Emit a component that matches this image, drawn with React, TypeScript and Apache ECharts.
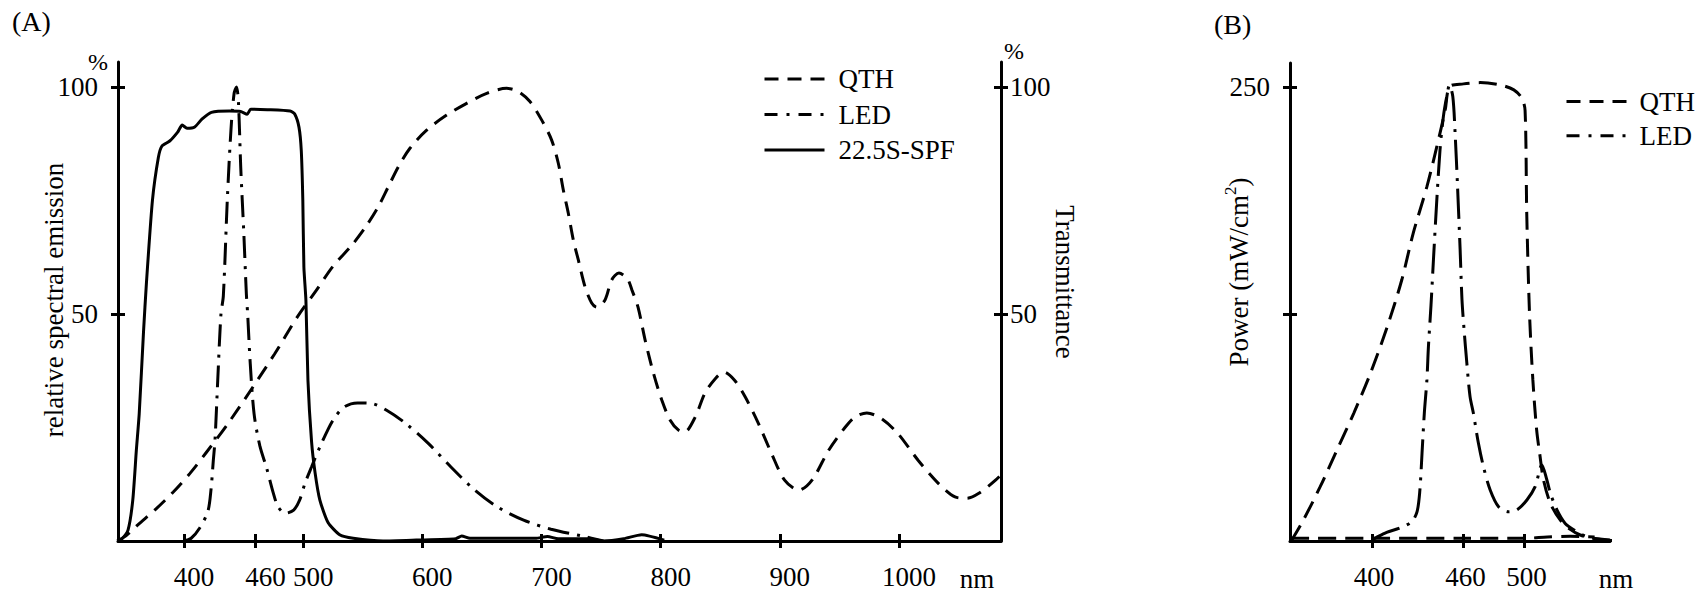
import React, { useEffect, useRef } from 'react';
import * as echarts from 'echarts';

const FONT = 'Liberation Serif';

// ---- tick values / labels ----
const xTicksA = [400, 460, 500, 600, 700, 800, 900, 1000];
const yTicksA = [50, 100];
const xTicksB = [400, 460, 500];
const yTicksB = [125, 250];
const yLabelsB = [250];

// ---- Panel A: relative spectral emission / transmittance (%) ----
const qthA: number[][] = [
  [344, 0], [352, 1.3], [361, 3.5], [377, 7.2], [391, 10.8], [405, 14.9], [419, 19.6], [437, 25.9],
  [456, 33.2], [476, 41.2], [495, 49.3], [511, 55.2], [525, 60.5], [541, 65.2], [553, 69.4],
  [563, 73.6], [571.4, 78], [579.8, 82.4], [589.6, 86.5], [603.6, 90.5], [620.4, 93.8],
  [637.2, 96.4], [654, 98.6], [670.8, 99.7], [680.5, 99], [690.3, 96.8], [700.2, 92.7],
  [708.5, 88.3], [714.1, 83.2], [718.3, 77.3], [722.5, 72.2], [726.7, 66.3], [730.9, 61.9],
  [736.5, 56], [742.1, 52.4], [746.3, 51.5], [753.3, 53.1], [758.9, 57.5], [765, 59],
  [772, 57.8], [776, 55.2], [781, 51.5], [787, 44.2], [794, 36.9],
  [801, 31], [808, 26.6], [815, 24.4], [820, 24], [829, 27.3], [837, 32.5], [846, 35.8],
  [853, 37.2], [862, 35.4], [871, 31.7], [882, 25.9], [893, 19.3], [904, 13.4], [916, 11.2],
  [927, 13.4], [941, 20], [955, 25.1], [963, 27.3], [973, 28.2], [985, 27], [999, 23.7],
  [1016, 17.8], [1033, 12.7], [1047, 9.7], [1057, 9.4], [1067, 10.5], [1081, 13.4], [1092, 16.3],
];

const ledA: number[][] = [
  [400, 0], [406, 0.6], [413, 2.8], [420, 6.5], [422.6, 11.2], [424.6, 17.8], [426, 22.2],
  [428.3, 35.4], [431, 50], [433, 54], [436.3, 75], [439.5, 91], [442, 98.5], [444, 100],
  [445.6, 97], [447.6, 82.3], [450.2, 67.7], [452.3, 54.5], [453.4, 50], [455.6, 39],
  [458.8, 28], [463.6, 21], [469.4, 16], [475, 10.5], [479, 7.5], [485, 6.1], [492, 6.8],
  [497, 9], [501.5, 12.7], [507, 16.3], [514, 20.7], [525, 26.6], [534.4, 29.5],
  [545.6, 30.4], [557, 30.3], [570, 28.8], [586, 25.9], [605, 21.5], [624, 16.3],
  [644, 11.2], [663, 7.5], [685, 4.6], [708, 2.6], [734, 1.1], [752, 0],
];

const spfA: number[][] = [
  [344, 0], [348, 0.5], [353, 2.4], [357, 9], [360, 20], [362.4, 28], [366, 46], [368.5, 57],
  [373.5, 75], [378.5, 84.5], [381.5, 87], [388, 88.1], [394.5, 90], [398.5, 91.6],
  [402.5, 90.9], [409, 91.2], [415, 92.9], [423, 94.4], [438, 94.7], [447.5, 94.6],
  [453, 94], [456, 95.1], [470, 95], [489, 94.7], [493, 94], [496.5, 91.1], [498.4, 86],
  [499.7, 75], [500.6, 60.3], [502.3, 53], [504, 35.4], [507, 22], [510, 15], [514, 9],
  [521, 4], [531, 1.3], [542, 0.6], [567, 0], [595, 0.2], [628, 0.5], [633, 1.1], [640, 0.6],
  [695, 0.6], [705, 1.0], [714, 0.5], [740, 0.5], [752, 0], [769, 0.5], [784, 1.4], [803, 0.2],
];

// ---- Panel B: power (mW/cm2) ----
const qthB: number[][] = [
  [347, 0], [355, 11.6], [366, 29.9], [377, 50.1], [388, 70.3], [399, 92.4], [410, 118],
  [419.5, 143.7], [427, 169.4], [436, 195.1], [442.5, 217.1], [448, 237.3], [451, 250.2],
  [460, 251.7], [471, 252.4], [484, 251.1], [493, 248.4], [498.3, 243.8], [500.4, 237],
  [501.5, 180], [503.3, 125.4], [505.5, 88.7], [508, 61], [510, 48], [512.5, 33.6],
  [517, 20.8], [523.4, 11.6], [530, 6.4], [536.6, 3.3], [545, 1.5], [556, 0.6],
];

const qthBBase: number[][] = [
  [347, 1.5], [400, 1.5], [460, 1.5], [500, 1.5], [515, 2.2], [530, 2.6], [546, 2.2],
];

const ledB: number[][] = [
  [400, 0.5], [403, 2], [409.6, 4.8], [418.4, 7.2], [426, 10.6], [429.5, 16], [431.3, 27],
  [432.8, 48.3], [434.3, 70.3], [436, 88.7], [437, 107], [438.7, 130], [440.3, 155],
  [442.5, 187.8], [444.6, 215.3], [446.8, 233.7], [449, 244.7], [450.8, 251], [453, 244.7],
  [454.5, 224.5], [456, 197], [457.8, 160.3], [459, 133], [460.4, 116.2], [462.2, 97.9],
  [464.3, 79.5], [466.5, 70.3], [469.8, 53.8], [473.1, 40.9], [477.5, 28.1], [483, 18.9],
  [489.5, 16.1], [495, 17.1], [501.6, 22.6], [507, 29.9], [511.4, 41.9], [514.7, 33.6],
  [517, 26.3], [521.3, 17.1], [526.7, 9.7], [533.3, 5.7], [541, 2.4], [552, 0.6], [565, 0],
];

const DASH_QTH_A = [15, 9];
const DASH_LED_A = [22, 8, 3, 8];
const DASH_QTH_B = [18, 9];
const DASH_LED_B = [30, 8, 3, 8];

function line(name: string, data: number[][], xi: number, yi: number, type: any, smooth: number, clip = true) {
  return {
    type: 'line', name, data, xAxisIndex: xi, yAxisIndex: yi,
    symbol: 'none', showSymbol: false, smooth, clip, silent: true,
    lineStyle: { color: '#000', width: 3, type },
    itemStyle: { color: '#000' },
  };
}

const axisLine = { show: true, onZero: false, lineStyle: { color: '#000', width: 3 } };
const fmt = (v: number) => String(v);

function xMain(grid: number, min: number, max: number, ticks: number[], pad: number) {
  return {
    type: 'value', gridIndex: grid, position: 'bottom', min, max,
    axisLine, splitLine: { show: false },
    axisTick: { show: true, customValues: ticks, length: 7, lineStyle: { color: '#000', width: 3 } },
    axisLabel: {
      customValues: ticks, margin: 22, fontFamily: FONT, fontSize: 27, color: '#000',
      padding: [0, 0, 0, pad], formatter: fmt,
    },
  };
}
function xGhost(grid: number, min: number, max: number, ticks: number[]) {
  return {
    type: 'value', gridIndex: grid, position: 'bottom', min, max,
    axisLine: { show: false }, splitLine: { show: false }, axisLabel: { show: false },
    axisTick: { show: true, inside: true, customValues: ticks, length: 7, lineStyle: { color: '#000', width: 3 } },
  };
}
function yMain(grid: number, pos: string, max: number, ticks: number[], labels: number[], margin: number, padTop: number) {
  return {
    type: 'value', gridIndex: grid, position: pos, min: 0, max,
    axisLine, splitLine: { show: false },
    axisTick: { show: true, customValues: ticks, length: 7, lineStyle: { color: '#000', width: 3 } },
    axisLabel: {
      customValues: labels, margin, fontFamily: FONT, fontSize: 27, color: '#000',
      padding: [padTop, 0, 0, 0], formatter: fmt,
    },
  };
}
function yGhost(grid: number, pos: string, max: number, ticks: number[]) {
  return {
    type: 'value', gridIndex: grid, position: pos, min: 0, max,
    axisLine: { show: false }, splitLine: { show: false }, axisLabel: { show: false },
    axisTick: { show: true, inside: true, customValues: ticks, length: 7, lineStyle: { color: '#000', width: 3 } },
  };
}

const txt = (text: string, x: number, y: number, size: number, rotation = 0, align = 'center') => ({
  type: 'text', x, y, rotation, silent: true,
  style: {
    text, fontFamily: FONT, fontSize: size, fill: '#000',
    align, textAlign: align, verticalAlign: 'middle', textVerticalAlign: 'middle',
  },
});

const legendItem = (name: string, type: any) => ({
  name,
  lineStyle: { type, width: 3, color: '#000' },
  itemStyle: { opacity: 0, color: 'transparent', borderWidth: 0 },
});

export default function App() {
  const ref = useRef<HTMLDivElement>(null);
  useEffect(() => {
    if (!ref.current) return;
    const chart = echarts.init(ref.current, null, { renderer: 'svg' });
    const maxA = 105.5;
    const maxB = 263.2;
    const option: any = {
      animation: false,
      backgroundColor: '#fff',
      grid: [
        { left: 118, top: 62, width: 883, height: 479, containLabel: false, outerBoundsMode: 'none' },
        { left: 1290, top: 63, width: 320, height: 478, containLabel: false, outerBoundsMode: 'none' },
      ],
      xAxis: [
        xMain(0, 344.6, 1085.6, xTicksA, 20),
        xGhost(0, 344.6, 1085.6, xTicksA),
        xMain(1, 346.2, 556.1, xTicksB, 4),
        xGhost(1, 346.2, 556.1, xTicksB),
      ],
      yAxis: [
        yMain(0, 'left', maxA, yTicksA, yTicksA, 20, 10),
        yGhost(0, 'left', maxA, yTicksA),
        yMain(0, 'right', maxA, yTicksA, yTicksA, 9, 4),
        yGhost(0, 'right', maxA, yTicksA),
        yMain(1, 'left', maxB, yTicksB, yLabelsB, 20, 8),
        yGhost(1, 'left', maxB, yTicksB),
      ],
      legend: [
        {
          orient: 'vertical', left: 763, top: 65.5, padding: 0, itemWidth: 60, itemHeight: 14, itemGap: 8.5,
          selectedMode: false,
          itemStyle: { opacity: 0 },
          textStyle: { fontFamily: FONT, fontSize: 27, color: '#000', lineHeight: 27, padding: [0, 0, 0, 9] },
          data: [
            legendItem('QTH', [14, 9]),
            legendItem('LED', [13, 9, 3, 9]),
            legendItem('22.5S-SPF', 'solid'),
          ],
        },
        {
          orient: 'vertical', left: 1565, top: 88, padding: 0, itemWidth: 60, itemHeight: 14, itemGap: 7.3,
          selectedMode: false,
          itemStyle: { opacity: 0 },
          textStyle: { fontFamily: FONT, fontSize: 27, color: '#000', lineHeight: 27, padding: [0, 0, 0, 8] },
          data: [
            legendItem('QTH', [14, 9]),
            legendItem('LED', [13, 9, 3, 9]),
          ],
        },
      ],
      series: [
        line('QTH', qthA, 0, 0, DASH_QTH_A, 0.3, false),
        line('LED', ledA, 0, 0, DASH_LED_A, 0.3),
        line('22.5S-SPF', spfA, 0, 0, 'solid', 0.2),
        line('QTH', qthB, 2, 4, DASH_QTH_B, 0.3),
        line('QTH', qthBBase, 2, 4, DASH_QTH_B, 0.3),
        line('LED', ledB, 2, 4, DASH_LED_B, 0.3, false),
      ],
      graphic: [
        txt('(A)', 12, 21, 28, 0, 'left'),
        txt('(B)', 1214, 24, 28, 0, 'left'),
        txt('%', 98, 62, 24),
        txt('%', 1014, 51, 24),
        txt('relative spectral emission', 54, 300, 27, Math.PI / 2),
        txt('Transmittance', 1065, 282, 27, -Math.PI / 2),
        txt('nm', 977, 579, 27),
        txt('nm', 1616, 579, 27),
        {
          type: 'text', x: 1237, y: 272, rotation: Math.PI / 2, silent: true,
          style: {
            text: '{a|Power (mW/cm}{s|2}{a|)}',
            align: 'center', textAlign: 'center', verticalAlign: 'middle', textVerticalAlign: 'middle',
            fill: '#000',
            rich: {
              a: { fontFamily: FONT, fontSize: 27, lineHeight: 30, fill: '#000', verticalAlign: 'bottom' },
              s: { fontFamily: FONT, fontSize: 17, lineHeight: 30, fill: '#000', verticalAlign: 'top', padding: [0, 0, 10, 0] },
            },
          },
        },
      ],
    };
    chart.setOption(option);
    return () => chart.dispose();
  }, []);
  return <div ref={ref} style={{ position: 'absolute', left: 0, top: 0, width: 1700, height: 594 }} />;
}
